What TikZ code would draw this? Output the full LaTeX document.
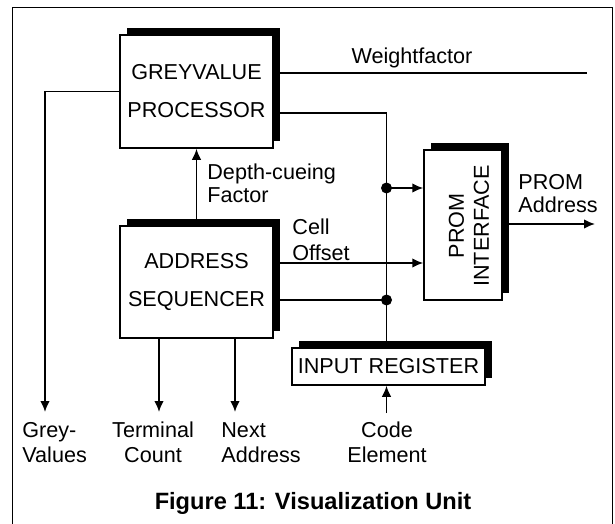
\documentclass[tikz,border=0pt]{standalone}
\usepackage{fontspec}
\setmainfont{Liberation Sans}
\usetikzlibrary{arrows.meta,shadows}
\begin{document}
\begin{tikzpicture}[x=0.5pt,y=-0.5pt,
  box/.style={draw, fill=white, line width=0.75pt, inner sep=0pt, align=center,
    font=\fontsize{10.8}{19}\selectfont,
    general shadow={fill=black, shadow xshift=3.3pt, shadow yshift=3.7pt}},
  ln/.style={line width=0.9pt},
  arr/.style={ln, -{Latex[length=5.5pt,width=4.8pt]}},
  lbl/.style={font=\fontsize{10.8}{12.5}\selectfont, inner sep=0pt},
  dot/.style={circle, fill=black, inner sep=0pt, minimum size=5.5pt}]
\useasboundingbox (0,0) rectangle (615,524);
\draw[line width=0.5pt] (12,524) -- (12,8) -- (612,8) -- (612,524);

% blocks
\node[box, minimum width=76.5pt, minimum height=56.5pt] (gp) at (196.5,91.5) {GREYVALUE\\PROCESSOR};
\node[box, minimum width=76.5pt, minimum height=56pt] (as) at (196.5,282) {ADDRESS\\SEQUENCER};
\node[box, minimum width=39pt, minimum height=75pt] (prom) at (463,225) {};
\node[lbl, rotate=90, align=center] (promtxt) at (469,226) {PROM\\INTERFACE};
\node[box, minimum width=96.5pt, minimum height=18.5pt] (ir) at (388.5,366.5) {INPUT REGISTER};

% coordinates
\coordinate (j1) at (386.5,188);
\coordinate (j2) at (386.5,300);
\coordinate (c1) at (386.5,113);
\coordinate (c2) at (300,263);
\coordinate (gvEnd) at (45,412);
\coordinate (wfEnd) at (587,73);
\coordinate (tcEnd) at (159,412);
\coordinate (naEnd) at (235,412);
\coordinate (paEnd) at (595,224);
\coordinate (ceStart) at (386.5,413);

% connectors
\draw[arr] (gp.west) -| (gvEnd);
\draw[ln] (gp.east |- wfEnd) -- (wfEnd);
\draw[ln] (gp.east |- c1) -- (c1) -- (ir.north -| c1);
\draw[arr] (j1) -- (j1 -| prom.west);
\draw[arr] (as.east |- c2) -- (prom.west |- c2);
\draw[ln] (as.east |- j2) -- (j2);
\node[dot] (d1) at (j1) {};
\node[dot] (d2) at (j2) {};
\draw[arr] (as.north) -- (gp.south);
\draw[arr] (as.south -| tcEnd) -- (tcEnd);
\draw[arr] (as.south -| naEnd) -- (naEnd);
\draw[arr] (prom.east |- paEnd) -- (paEnd);
\draw[arr] (ceStart) -- (ceStart |- ir.south);

% labels
\node[lbl] (wf) at (412,58) {Weightfactor};
\node[lbl, anchor=west, align=left, font=\fontsize{10.8}{11.5}\selectfont] (dc) at (207,183.5) {Depth-cueing\\Factor};
\node[lbl, anchor=west, align=left, font=\fontsize{10.8}{13}\selectfont] (co) at (292,240) {Cell\\Offset};
\node[lbl, anchor=west, align=left, font=\fontsize{10.8}{11.5}\selectfont] (pa) at (518,193.5) {PROM\\Address};
\node[lbl, anchor=west, align=left] (gv) at (22,442.5) {Grey-\\Values};
\node[lbl, align=center] (tc) at (153,442.5) {Terminal\\Count};
\node[lbl, anchor=west, align=left] (na) at (221,442.5) {Next\\Address};
\node[lbl, align=center] (ce) at (387,442.5) {Code\\Element};
\node[inner sep=0pt, font=\fontsize{11.8}{14}\selectfont\bfseries] (cap) at (313,503) {Figure 11: Visualization Unit};
\end{tikzpicture}
\end{document}
